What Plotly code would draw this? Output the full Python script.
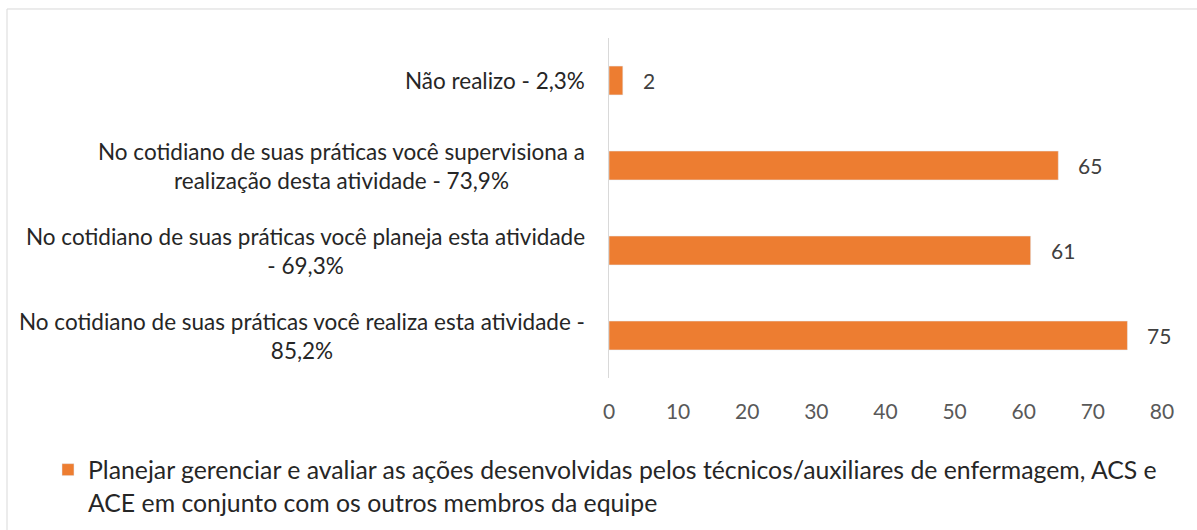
import plotly.graph_objects as go

categories = [
    "No cotidiano de suas práticas você realiza esta atividade -<br>85,2%",
    "No cotidiano de suas práticas você planeja esta atividade<br>- 69,3%",
    "No cotidiano de suas práticas você supervisiona a<br>realização desta atividade - 73,9%",
    "Não realizo - 2,3%",
]
values = [75, 61, 65, 2]
series_name = ("Planejar gerenciar e avaliar as ações desenvolvidas pelos técnicos/auxiliares de enfermagem, ACS e<br>"
               "ACE em conjunto com os outros membros da equipe")
x_ticks = [0, 10, 20, 30, 40, 50, 60, 70, 80]

ORANGE = "#ED7D31"
FONT = "Lato, Liberation Sans Narrow, Arial"

fig = go.Figure()
fig.add_trace(go.Bar(
    y=list(range(len(categories))),
    x=values,
    orientation="h",
    marker=dict(color=ORANGE),
    name=series_name,
    showlegend=True,
    hoverinfo="x",
))

# value labels to the right of each bar
for i, v in enumerate(values):
    fig.add_annotation(
        x=v, xref="x", y=i, yref="y", text=str(v), showarrow=False,
        xanchor="left", yanchor="middle", xshift=18,
        font=dict(size=21, color="#404040", family=FONT),
    )

# category labels as centered multi-line annotations
for i, c in enumerate(categories):
    fig.add_annotation(
        x=-0.04, xref="paper", y=i, yref="y",
        text=c, showarrow=False, xanchor="right", yanchor="middle",
        align="center", font=dict(size=22.5, color="#262626", family=FONT),
    )

# outer chart border
fig.add_shape(type="rect", xref="paper", yref="paper",
              x0=-1.0886, x1=1.07, y0=-0.47, y1=1.0853,
              line=dict(color="#D9D9D9", width=1), fillcolor="rgba(0,0,0,0)", layer="below")

fig.update_layout(
    width=1197, height=530,
    margin=dict(l=609, r=35, t=38, b=152, autoexpand=False),
    paper_bgcolor="white", plot_bgcolor="white",
    bargap=0.66,
    xaxis=dict(range=[0, 80], tickvals=x_ticks, showgrid=False, zeroline=False,
               showline=False, ticks="", ticklen=0, ticklabelstandoff=19,
               tickfont=dict(size=21, color="#595959", family=FONT)),
    yaxis=dict(range=[-0.5, 3.5], showticklabels=False, showgrid=False, zeroline=False,
               showline=True, linecolor="#D9D9D9", linewidth=1, ticks=""),
    legend=dict(orientation="h", x=-1.0145, xanchor="left", y=-0.203, yanchor="top",
                valign="top",
                font=dict(size=24.8, color="#262626", family=FONT), itemwidth=30,
                bgcolor="rgba(0,0,0,0)"),
    font=dict(family=FONT),
)

fig.write_html("out.html")
